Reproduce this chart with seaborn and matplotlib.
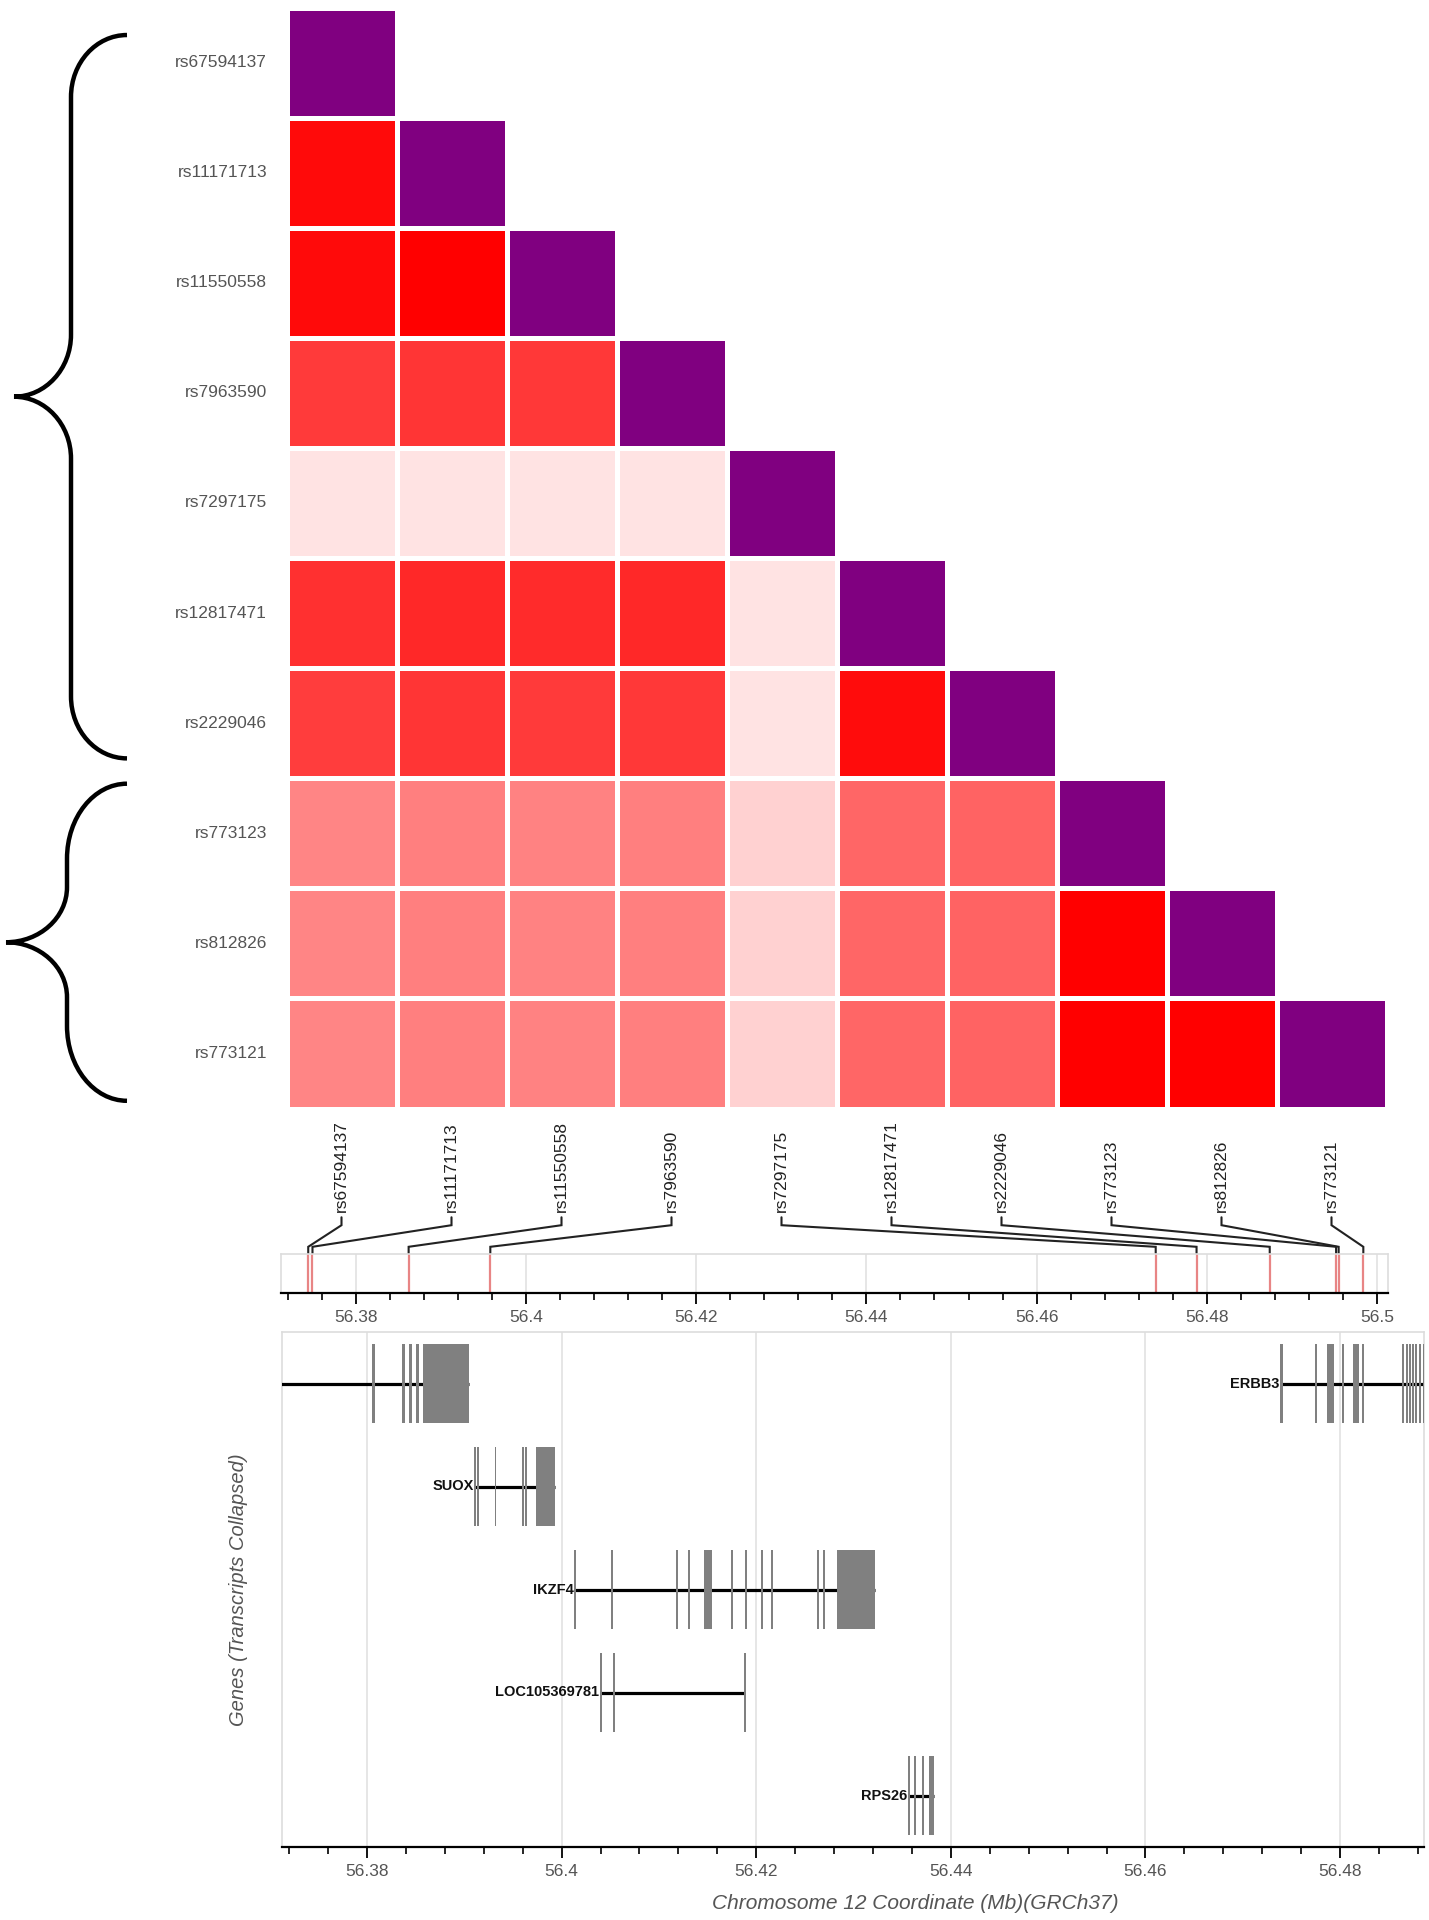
import numpy as np
import pandas as pd
import matplotlib
matplotlib.use("Agg")
import matplotlib.pyplot as plt
import seaborn as sns
from matplotlib.colors import LinearSegmentedColormap, ListedColormap
from matplotlib.path import Path
from matplotlib.patches import PathPatch
from matplotlib.ticker import MultipleLocator, FuncFormatter


# ======================================================
# DATA
# ======================================================
snps = ["rs67594137", "rs11171713", "rs11550558", "rs7963590", "rs7297175",
        "rs12817471", "rs2229046", "rs773123", "rs812826", "rs773121"]

# SNP positions (Mb, GRCh37)
snp_pos = [56.3744, 56.3749, 56.3862, 56.3958, 56.4740,
           56.4788, 56.4874, 56.4952, 56.4955, 56.4984]

# LD (r2) lower triangle, diagonal included
ld_rows = [
    [1.00],
    [0.96, 1.00],
    [0.96, 1.00, 1.00],
    [0.77, 0.79, 0.78, 1.00],
    [0.11, 0.11, 0.11, 0.11, 1.00],
    [0.81, 0.84, 0.83, 0.84, 0.11, 1.00],
    [0.76, 0.79, 0.77, 0.78, 0.11, 0.95, 1.00],
    [0.48, 0.50, 0.49, 0.50, 0.18, 0.60, 0.61, 1.00],
    [0.48, 0.50, 0.49, 0.50, 0.18, 0.60, 0.61, 1.00, 1.00],
    [0.48, 0.50, 0.49, 0.50, 0.18, 0.60, 0.61, 1.00, 1.00, 1.00],
]

# haplotype blocks shown as braces (in heatmap row units)
brace_spans = [(0.25, 6.82), (7.05, 9.93)]

# genes (transcripts collapsed)
gene_names = [None, "ERBB3", "SUOX", "IKZF4", "LOC105369781", "RPS26"]
gene_rows = [1, 1, 2, 3, 4, 5]
gene_start = [56.3600, 56.4739, 56.3911, 56.4014, 56.4040, 56.4357]
gene_end = [56.3905, 56.4970, 56.3993, 56.4322, 56.4188, 56.4383]
gene_exons = [
    [(56.3805, 56.3808), (56.3836, 56.3839), (56.3843, 56.3846),
     (56.3850, 56.3853), (56.3858, 56.3905)],
    [(56.4738, 56.4741), (56.4774, 56.4776), (56.4787, 56.4794),
     (56.4802, 56.4804), (56.4813, 56.4820), (56.4823, 56.4825),
     (56.4864, 56.4866), (56.4868, 56.4870), (56.4871, 56.4873),
     (56.4874, 56.4876), (56.4877, 56.4879), (56.4881, 56.4883),
     (56.4885, 56.4887), (56.4900, 56.4905), (56.4930, 56.4970)],
    [(56.3910, 56.3912), (56.3913, 56.3915), (56.3931, 56.3933),
     (56.3959, 56.3961), (56.3962, 56.3964), (56.3974, 56.3993)],
    [(56.4013, 56.4015), (56.4051, 56.4053), (56.4118, 56.4120),
     (56.4130, 56.4132), (56.4146, 56.4155), (56.4174, 56.4176),
     (56.4188, 56.4190), (56.4205, 56.4207), (56.4215, 56.4217),
     (56.4262, 56.4264), (56.4269, 56.4271), (56.4283, 56.4322)],
    [(56.4039, 56.4041), (56.4053, 56.4055), (56.4187, 56.4189)],
    [(56.4356, 56.4358), (56.4362, 56.4364), (56.4370, 56.4372),
     (56.4378, 56.4383)],
]

snp_xlim = (56.3712, 56.5013)
gene_xlim = (56.37126, 56.48863)


# ======================================================
# FIGURE SETUP
# ======================================================
sns.set_theme(style="white")
plt.rcParams["font.family"] = ["Liberation Sans", "DejaVu Sans"]

W, H = 1429, 1920
fig = plt.figure(figsize=(W / 100, H / 100), dpi=100)


def px_axes(x0, y0, x1, y1):
    return fig.add_axes([x0 / W, 1 - y1 / H, (x1 - x0) / W, (y1 - y0) / H])


ax_br = fig.add_axes([0, 0, 1, 1])
ax_br.set_xlim(0, W)
ax_br.set_ylim(H, 0)
ax_br.axis("off")

ax_heat = px_axes(286.5, 7.5, 1386.5, 1108.5)
ax_conn = px_axes(281, 1110, 1388, 1254)
ax_snp = px_axes(281, 1254, 1388, 1293)
ax_gene = px_axes(282, 1332, 1424, 1847)


# ======================================================
# LD HEATMAP
# ======================================================
n = len(snps)
ld = np.full((n, n), np.nan)
for i, row in enumerate(ld_rows):
    ld[i, :len(row)] = row
ld_df = pd.DataFrame(ld, index=snps, columns=snps)
eye = np.eye(n, dtype=bool)
off = ld_df.where(~eye)
diag = ld_df.where(eye)

ld_cmap = LinearSegmentedColormap.from_list("ld", ["#ffffff", "#ff0000"])
sns.heatmap(off, mask=off.isna(), cmap=ld_cmap, vmin=0, vmax=1, cbar=False,
            linewidths=3.6, linecolor="white", ax=ax_heat)
sns.heatmap(diag, mask=diag.isna(), cmap=ListedColormap(["#800080"]),
            vmin=0, vmax=1, cbar=False, linewidths=3.6, linecolor="white",
            ax=ax_heat)

ax_heat.set_xticks([])
ax_heat.set_yticks(np.arange(n) + 0.5)
ax_heat.set_yticklabels(snps, rotation=0, color="#555555", fontsize=12.5)
ax_heat.tick_params(axis="y", length=0, pad=14)
ax_heat.set_xlabel("")
ax_heat.set_ylabel("")


# ======================================================
# BRACES
# ======================================================
def brace(ax, y0, y1, xr, xm, xt, r1, r2):
    k = 0.5523
    ym = (y0 + y1) / 2
    verts = [
        (xr, y0),
        (xr - k * (xr - xm), y0), (xm, y0 + r1 - k * r1), (xm, y0 + r1),
        (xm, ym - r2),
        (xm, ym - r2 + k * r2), (xt + k * (xm - xt), ym), (xt, ym),
        (xt + k * (xm - xt), ym), (xm, ym + r2 - k * r2), (xm, ym + r2),
        (xm, y1 - r1),
        (xm, y1 - r1 + k * r1), (xr - k * (xr - xm), y1), (xr, y1),
    ]
    codes = [Path.MOVETO] + [Path.CURVE4] * 3 + [Path.LINETO] + \
        [Path.CURVE4] * 6 + [Path.LINETO] + [Path.CURVE4] * 3
    ax.add_patch(PathPatch(Path(verts, codes), fill=False, lw=3.2,
                           edgecolor="black", capstyle="butt"))


for (r0, r1), (xm, xt, c1, c2) in zip(brace_spans,
                                     [(71, 14, 62, 62), (67, 6, 75, 55)]):
    y_top = H - ax_heat.transData.transform((0, r0))[1]
    y_bot = H - ax_heat.transData.transform((0, r1))[1]
    brace(ax_br, y_top, y_bot, 127, xm, xt, c1, c2)


# ======================================================
# SNP LABELS + CONNECTORS
# ======================================================
ax_conn.set_xlim(*snp_xlim)
ax_conn.set_ylim(0, 1)
ax_conn.axis("off")

inv = ax_conn.transData.inverted()
for i, (name, pos) in enumerate(zip(snps, snp_pos)):
    disp = ax_heat.transData.transform((i + 0.5, 0))
    cx = inv.transform(disp)[0]
    ax_conn.plot([cx, cx, pos, pos], [0.255, 0.20, 0.05, 0.0],
                 color="#222222", lw=1.5, solid_joinstyle="miter")
    ax_conn.text(cx, 0.29, name, rotation=90, ha="center", va="bottom",
                 fontsize=12.5, color="#222222")


# ======================================================
# AXIS STYLE HELPER
# ======================================================
fmt = FuncFormatter(lambda v, p: f"{v:.2f}".rstrip("0").rstrip("."))


def style_track(ax):
    ax.xaxis.set_major_locator(MultipleLocator(0.02))
    ax.xaxis.set_minor_locator(MultipleLocator(0.004))
    ax.xaxis.set_major_formatter(fmt)
    ax.grid(axis="x", which="major", color="#e2e2e2", lw=1.2)
    ax.grid(axis="y", visible=False)
    for s in ["top", "left", "right"]:
        ax.spines[s].set_color("#dddddd")
        ax.spines[s].set_linewidth(1.2)
    ax.spines["bottom"].set_color("black")
    ax.spines["bottom"].set_linewidth(1.6)
    ax.tick_params(axis="x", which="major", direction="out", length=8,
                   width=1.3, color="black", labelsize=12.5,
                   labelcolor="#555555", pad=4, bottom=True)
    ax.tick_params(axis="x", which="minor", direction="out", length=5,
                   width=1.2, color="black", bottom=True)
    ax.set_yticks([])


# ======================================================
# SNP POSITION TRACK
# ======================================================
sns.rugplot(x=snp_pos, height=1, ax=ax_snp, color="#e88585",
            linewidth=1.6, expand_margins=False)
ax_snp.set_xlim(*snp_xlim)
ax_snp.set_ylim(0, 1)
style_track(ax_snp)


# ======================================================
# GENE TRACK
# ======================================================
for name, row, s, e, exons in zip(gene_names, gene_rows, gene_start,
                                  gene_end, gene_exons):
    ax_gene.hlines(row, s, e, color="black", lw=2.3, zorder=3)
    ax_gene.broken_barh([(a, b - a) for a, b in exons], (row - 0.38, 0.76),
                        facecolors="#808080", edgecolor="none", zorder=4)
    if name:
        ax_gene.annotate(name, (s, row), xytext=(-1, 0),
                         textcoords="offset points", ha="right", va="center",
                         fontsize=10.5, fontweight="bold", color="#111111",
                         zorder=5)

ax_gene.set_xlim(*gene_xlim)
ax_gene.set_ylim(5.5, 0.5)
style_track(ax_gene)
ax_gene.set_xlabel("Chromosome 12 Coordinate (Mb)(GRCh37)", fontsize=15,
                   style="italic", color="#555555")
ax_gene.xaxis.set_label_coords((915 - 282) / 1142, -0.091)
ax_gene.set_ylabel("Genes (Transcripts Collapsed)", fontsize=14.5,
                   style="italic", color="#555555")
ax_gene.yaxis.set_label_coords(-0.03, 0.5)

fig.savefig("out.png", dpi=100)
